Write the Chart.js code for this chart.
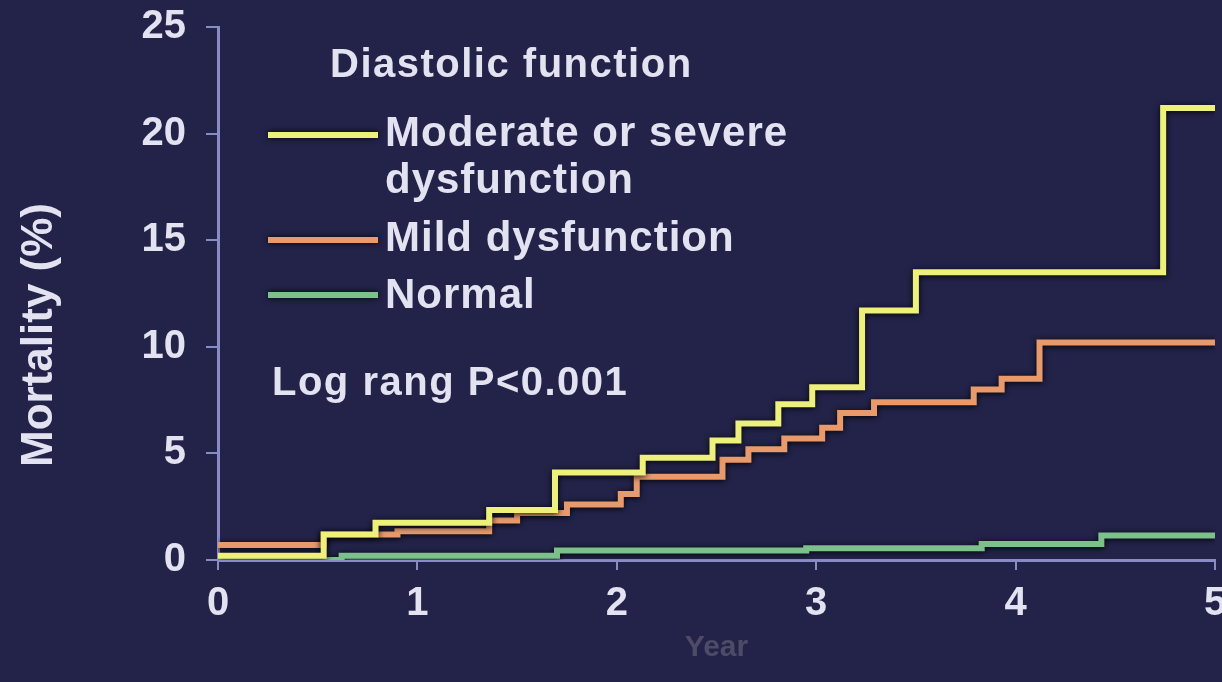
<!DOCTYPE html>
<html>
<head>
<meta charset="utf-8">
<title>Mortality by diastolic function</title>
<script src="https://cdn.jsdelivr.net/npm/chart.js@4"></script>
<style>
  html, body { margin: 0; padding: 0; background: #23234a; overflow: hidden; }
  #wrap { width: 1222px; height: 682px; }
</style>
</head>
<body>
<div id="wrap"><canvas id="kmChart" width="1222" height="682"></canvas></div>
<script>
// Kaplan-Meier style steps: time (years) where the curve jumps, value (%) after the jump
const modTimes = [0, 0.53, 0.79, 1.36, 1.69, 2.13, 2.48, 2.61, 2.81, 2.98, 3.23, 3.5, 4.74, 5];
const modValues = [0.2, 1.2, 1.75, 2.35, 4.1, 4.8, 5.6, 6.4, 7.3, 8.1, 11.7, 13.5, 21.2, 21.2];

const mildTimes = [0, 0.53, 0.9, 1.36, 1.5, 1.75, 2.02, 2.1, 2.53, 2.66, 2.84, 3.03, 3.12, 3.29, 3.79, 3.93, 4.12, 5];
const mildValues = [0.7, 1.2, 1.35, 1.85, 2.2, 2.6, 3.1, 3.9, 4.7, 5.2, 5.7, 6.2, 6.9, 7.4, 8.0, 8.5, 10.2, 10.2];

const normalTimes = [0, 0.62, 1.7, 2.95, 3.83, 4.43, 5];
const normalValues = [0, 0.2, 0.45, 0.55, 0.75, 1.15, 1.15];

const xTicks = [0, 1, 2, 3, 4, 5];
const yTicks = [0, 5, 10, 15, 20, 25];

const seriesNames = ['Moderate or severe', 'Mild dysfunction', 'Normal'];
const seriesColors = ['#eef07c', '#e89a6c', '#7cc08c'];

const axisColor = '#8a8ac4';
const textColor = '#e2e2f0';
const fontFamily = "'Liberation Sans', Arial, sans-serif";

function toPoints(times, values) {
  return times.map((t, i) => ({ x: t, y: values[i] }));
}

// dark halo under the curves, like the original slide
const shadowPlugin = {
  id: 'lineShadow',
  beforeDatasetDraw(chart) {
    const ctx = chart.ctx;
    ctx.save();
    ctx.shadowColor = 'rgba(0,0,0,0.95)';
    ctx.shadowBlur = 6;
    ctx.shadowOffsetY = 1;
  },
  afterDatasetDraw(chart) {
    chart.ctx.restore();
  }
};

// legend block, p-value note and y title
const notesPlugin = {
  id: 'notes',
  afterDraw(chart) {
    const ctx = chart.ctx;
    ctx.save();
    ctx.fillStyle = textColor;
    ctx.textBaseline = 'middle';
    ctx.textAlign = 'left';

    ctx.font = 'bold 40px ' + fontFamily;
    ctx.letterSpacing = '1.5px';
    ctx.fillText('Diastolic function', 330, 66);

    const lineY = [135, 240, 295];
    lineY.forEach((y, i) => {
      ctx.save();
      ctx.shadowColor = 'rgba(0,0,0,0.95)';
      ctx.shadowBlur = 6;
      ctx.strokeStyle = seriesColors[i];
      ctx.lineWidth = 6;
      ctx.beginPath();
      ctx.moveTo(268, y);
      ctx.lineTo(378, y);
      ctx.stroke();
      ctx.restore();
    });

    ctx.font = 'bold 42px ' + fontFamily;
    ctx.letterSpacing = '1px';
    ctx.fillText('Moderate or severe', 385, 134);
    ctx.fillText('dysfunction', 385, 181);
    ctx.fillText('Mild dysfunction', 385, 239);
    ctx.fillText('Normal', 385, 296);

    ctx.font = 'bold 40px ' + fontFamily;
    ctx.letterSpacing = '1.5px';
    ctx.fillText('Log rang P<0.001', 272, 384);

    ctx.translate(40, 335);
    ctx.rotate(-Math.PI / 2);
    ctx.textAlign = 'center';
    ctx.font = 'bold 44px ' + fontFamily;
    ctx.letterSpacing = '0px';
    ctx.fillText('Mortality (%)', 0, 0);
    ctx.restore();
  }
};

const ctx = document.getElementById('kmChart').getContext('2d');
const kmChart = new Chart(ctx, {
  type: 'line',
  data: {
    datasets: [
      { label: seriesNames[0], data: toPoints(modTimes, modValues), borderColor: seriesColors[0] },
      { label: seriesNames[1], data: toPoints(mildTimes, mildValues), borderColor: seriesColors[1] },
      { label: seriesNames[2], data: toPoints(normalTimes, normalValues), borderColor: seriesColors[2] }
    ].map(ds => Object.assign(ds, {
      stepped: 'before',
      borderWidth: 6,
      pointRadius: 0,
      fill: false,
      tension: 0
    }))
  },
  options: {
    responsive: false,
    animation: false,
    layout: { padding: { left: 0, right: 7, top: 27, bottom: 0 } },
    plugins: {
      legend: { display: false },
      tooltip: { enabled: false }
    },
    scales: {
      x: {
        type: 'linear',
        min: 0,
        max: 5,
        afterBuildTicks: s => { s.ticks = xTicks.map(v => ({ value: v })); },
        afterFit: s => { s.height = 122; s.paddingLeft = 0; s.paddingRight = 0; },
        border: { display: true, color: axisColor, width: 3 },
        grid: { display: true, drawOnChartArea: false, drawTicks: true, tickLength: 10, color: axisColor, lineWidth: 2 },
        ticks: {
          color: textColor,
          padding: 10,
          maxRotation: 0,
          font: { family: fontFamily, size: 40, weight: 'bold' }
        },
        title: {
          display: true,
          text: 'Year',
          color: '#4c4c66',
          padding: { top: 0, bottom: 16 },
          font: { family: fontFamily, size: 30, weight: 'bold' }
        }
      },
      y: {
        min: 0,
        max: 25,
        afterBuildTicks: s => { s.ticks = yTicks.map(v => ({ value: v })); },
        afterFit: s => { s.width = 218; s.paddingTop = 0; s.paddingBottom = 0; },
        border: { display: true, color: axisColor, width: 3 },
        grid: { display: true, drawOnChartArea: false, drawTicks: true, tickLength: 12, color: axisColor, lineWidth: 2 },
        ticks: {
          color: textColor,
          padding: 20,
          font: { family: fontFamily, size: 40, weight: 'bold' }
        }
      }
    }
  },
  plugins: [shadowPlugin, notesPlugin]
});
</script>
</body>
</html>
